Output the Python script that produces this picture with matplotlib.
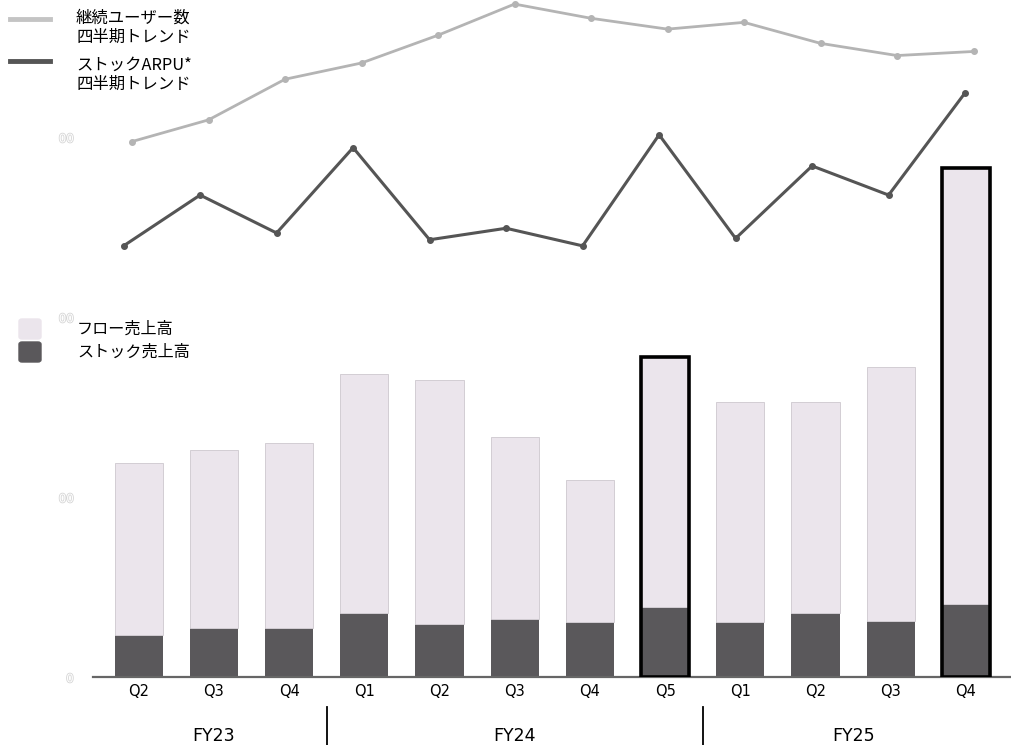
import matplotlib.pyplot as plt
import matplotlib.patheffects as pe
from matplotlib.lines import Line2D
from matplotlib.patches import FancyBboxPatch

plt.rcParams['font.family'] = ['Noto Sans CJK JP', 'DejaVu Sans']

# quarterly sales (stacked) and two trend lines
quarters = ['Q2', 'Q3', 'Q4', 'Q1', 'Q2', 'Q3', 'Q4', 'Q5', 'Q1', 'Q2', 'Q3', 'Q4']
stock = [23.5, 27.4, 27.4, 35.7, 29.4, 32.6, 30.6, 38.9, 30.6, 35.7, 31.4, 40.7]
total = [118.9, 126.1, 130.0, 168.5, 165.2, 133.3, 109.4, 177.9, 152.9, 152.9, 172.2, 282.9]
flow = [t - s for t, s in zip(total, stock)]
highlight = [7, 11]

users = [79.1, 82.3, 88.3, 90.7, 94.8, 99.4, 97.3, 95.7, 96.7, 93.6, 91.8, 92.4]
arpu = [63.7, 71.2, 65.6, 78.2, 64.6, 66.3, 63.7, 80.1, 64.8, 75.5, 71.2, 86.3]

fiscal_years = ['FY23', 'FY24', 'FY25']
fy_groups = [(0, 2), (3, 7), (8, 11)]

yticks = [0, 100, 200, 300]
ytick_labels = ['0', '00', '00', '00']

c_flow = '#ebe5ec'
c_stock = '#5a585b'
c_users = '#b4b4b4'
c_arpu = '#555555'

W, H = 1011, 745
fig = plt.figure(figsize=(W / 100, H / 100), dpi=100)
ax = fig.add_axes([93 / W, 67.7 / H, 918 / W, 677.3 / H])

x = list(range(len(quarters)))
ax.bar(x, stock, width=0.64, color=c_stock, zorder=2)
ax.bar(x, flow, bottom=stock, width=0.64, color=c_flow,
       edgecolor='#d2cdd3', linewidth=0.7, zorder=2)
for i in highlight:
    ax.bar(i, total[i], width=0.64, fill=False, edgecolor='black',
           linewidth=2.6, zorder=3)

ax.set_xlim(-0.608, 11.6)
ax.set_ylim(0, 376.3)
ax.set_xticks(x)
ax.set_xticklabels(quarters, fontsize=10.5, family=['DejaVu Sans'])
ax.tick_params(axis='x', length=0, pad=5)
ax.set_yticks(yticks)
ax.set_yticklabels(ytick_labels, fontsize=8.5, family=['DejaVu Sans'], color='white')
for lab in ax.get_yticklabels():
    lab.set_path_effects([pe.withStroke(linewidth=1.2, foreground='#d6d6d6')])
ax.tick_params(axis='y', length=0, pad=14)
for side in ['top', 'right', 'left']:
    ax.spines[side].set_visible(False)
ax.spines['bottom'].set_color('#666666')
ax.spines['bottom'].set_linewidth(1.6)

# fiscal year labels and separators below the quarter ticks
for name, (a, b) in zip(fiscal_years, fy_groups):
    ax.text((a + b) / 2, -0.086, name, transform=ax.get_xaxis_transform(),
            ha='center', va='center', fontsize=12.5, family=['DejaVu Sans'])
for sep in [2.5, 7.5]:
    ax.plot([sep, sep], [-0.044, -0.1], transform=ax.get_xaxis_transform(),
            color='black', lw=1.3, clip_on=False)

# trend lines on their own scale
ax2 = fig.add_axes(ax.get_position(), frameon=False)
ax2.set_xlim(-0.51, 11.49)
ax2.set_ylim(0, 100)
ax2.plot(x, users, color=c_users, lw=2.0, marker='o', ms=4, zorder=3)
ax2.plot([i - 0.11 for i in x], arpu, color=c_arpu, lw=2.2, marker='o', ms=4, zorder=3)
ax2.axis('off')

# legends, drawn in figure pixel coordinates
def fy(py):
    return 1 - py / H

fig.add_artist(Line2D([10 / W, 50 / W], [fy(19), fy(19)], color='#c4c4c4', lw=3.5))
fig.add_artist(Line2D([10 / W, 50 / W], [fy(61), fy(61)], color=c_arpu, lw=3.5))
fig.text(76 / W, fy(28), '継続ユーザー数\n四半期トレンド', fontsize=11.8,
         va='center', linespacing=1.2)
fig.text(76 / W, fy(75), 'ストックARPU*\n四半期トレンド', fontsize=11.8,
         va='center', linespacing=1.2)

for py, col, lab in [(329, c_flow, 'フロー売上高'), (352, c_stock, 'ストック売上高')]:
    fig.add_artist(FancyBboxPatch((19 / W, fy(py + 10)), 22 / W, 20 / H,
                                  boxstyle='round,pad=0,rounding_size=0.003',
                                  transform=fig.transFigure, color=col))
    fig.text(77 / W, fy(py), lab, fontsize=11.6, va='center')

fig.savefig('out.png', dpi=100)
